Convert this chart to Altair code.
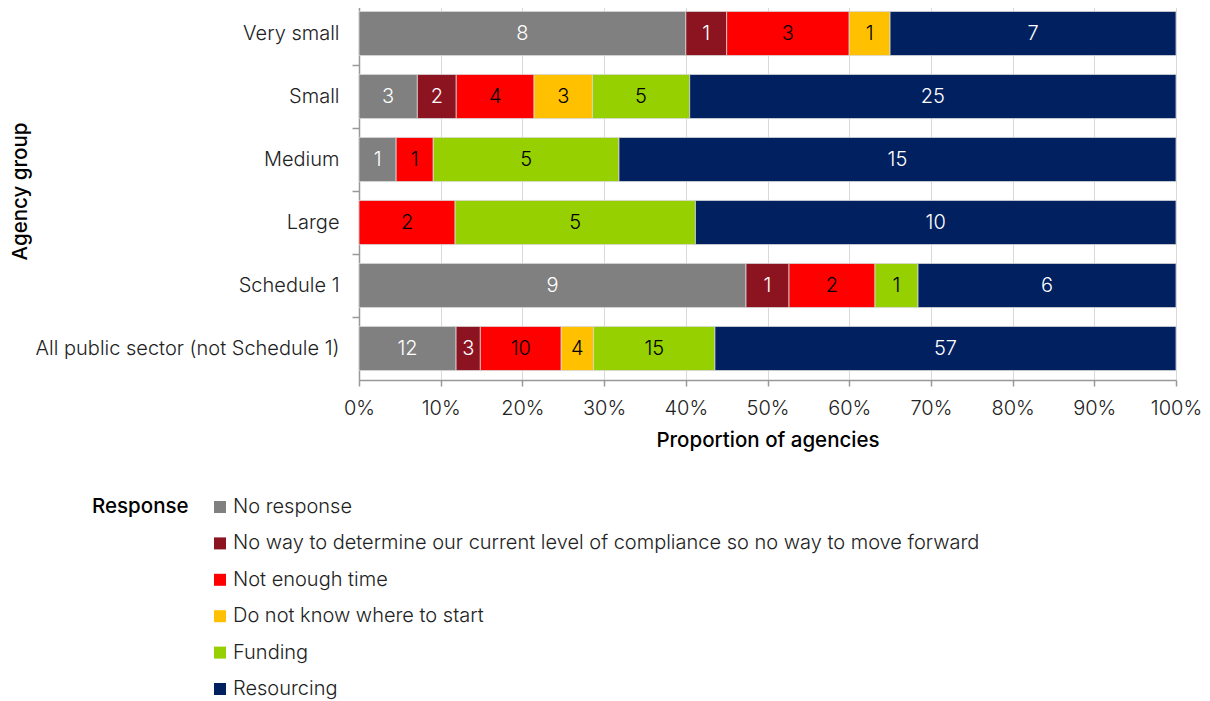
import altair as alt
import pandas as pd

groups = ["Very small", "Small", "Medium", "Large", "Schedule 1",
          "All public sector (not Schedule 1)"]
responses = ["No response",
             "No way to determine our current level of compliance so no way to move forward",
             "Not enough time",
             "Do not know where to start",
             "Funding",
             "Resourcing"]
colors = ["#808080", "#8B1420", "#FF0000", "#FFC000", "#96D000", "#002060"]
text_colors = ["#ffffff", "#ffffff", "#000000", "#000000", "#000000", "#ffffff"]

no_response = [8, 3, 1, 0, 9, 12]
no_way = [1, 2, 0, 0, 1, 3]
not_enough_time = [3, 4, 1, 2, 2, 10]
do_not_know = [1, 3, 0, 0, 0, 4]
funding = [0, 5, 5, 5, 1, 15]
resourcing = [7, 25, 15, 10, 6, 57]

series = [no_response, no_way, not_enough_time, do_not_know, funding, resourcing]
rows = []
for ri, (resp, vals) in enumerate(zip(responses, series)):
    for g, v in zip(groups, vals):
        rows.append({"group": g, "response": resp, "count": v, "order": ri,
                     "tcol": text_colors[ri]})
df = pd.DataFrame(rows)

FONT = "Inter"
LW = 300
TW = 500
LS = 20
TS = 20.5
W = 817

base = alt.Chart(df).transform_joinaggregate(
    total="sum(count)", groupby=["group"]
).transform_window(
    cum="sum(count)", groupby=["group"], sort=[alt.SortField("order")],
    frame=[None, 0]
).transform_filter(
    alt.datum.count > 0
).transform_calculate(
    start="(datum.cum - datum.count) / datum.total",
    end="datum.cum / datum.total",
    mid="(datum.cum - datum.count / 2) / datum.total",
)

y_enc = alt.Y("group:N", sort=groups,
              scale=alt.Scale(paddingInner=0, paddingOuter=0),
              axis=alt.Axis(title="Agency group", bandPosition=0, tickSize=7,
                            tickColor="#999999", domainColor="#999999",
                            domainWidth=1.5, tickWidth=1.5,
                            labelFontSize=LS, labelFont=FONT, labelFontWeight=LW,
                            labelColor="#222222", labelPadding=13, labelLimit=400,
                            titleFontSize=TS, titleFont=FONT, titleFontWeight=TW,
                            titleColor="#000000", titleX=-339, titleY=189,
                            titleAngle=270, titleAlign="center", titleBaseline="middle"))

bars = base.mark_bar(height={"band": 0.7}, stroke="#d8d8d8", strokeWidth=0.8).encode(
    x=alt.X("start:Q", scale=alt.Scale(domain=[0, 1], nice=False),
            axis=alt.Axis(title="Proportion of agencies", format="%", values=[i / 10 for i in range(11)],
                          grid=True, gridColor="#d9d9d9", gridWidth=1,
                          tickSize=6, tickColor="#999999", tickWidth=1.5,
                          domainColor="#999999", domainWidth=1.5,
                          labelFontSize=LS, labelFont=FONT, labelFontWeight=LW,
                          labelColor="#222222", labelPadding=12, labelFlush=False,
                          titleFontSize=TS, titleFont=FONT, titleFontWeight=TW,
                          titleColor="#000000", titlePadding=12)),
    x2="end:Q",
    y=y_enc,
    color=alt.Color("response:N", sort=responses,
                    scale=alt.Scale(domain=responses, range=colors),
                    legend=alt.Legend(title="Response", orient="none",
                                      legendX=-267, legendY=495,
                                      titleOrient="left", titleAnchor="start",
                                      titleFontSize=TS,
                                      titleFont=FONT, titleFontWeight=TW,
                                      titleColor="#000000", titlePadding=21,
                                      labelFontSize=LS, labelFont=FONT,
                                      labelFontWeight=LW, labelColor="#222222",
                                      labelLimit=900, symbolType="square",
                                      symbolSize=144, symbolStrokeWidth=0,
                                      rowPadding=16.4, labelOffset=3,
                                      direction="vertical")),
    order=alt.Order("order:Q"),
)

labels = base.mark_text(fontSize=LS, font=FONT, fontWeight=LW).encode(
    x="mid:Q",
    y=alt.Y("group:N", sort=groups),
    text="count:Q",
    color=alt.Color("tcol:N", scale=None),
)

chart = alt.layer(bars, labels).properties(
    width=W, height=378,
    autosize=alt.AutoSizeParams(type="none"),
    padding={"left": 351, "top": -6, "right": 26, "bottom": 320},
).configure_view(stroke=None)

chart.save("out.html", embed_options={"renderer": "svg", "actions": False})
